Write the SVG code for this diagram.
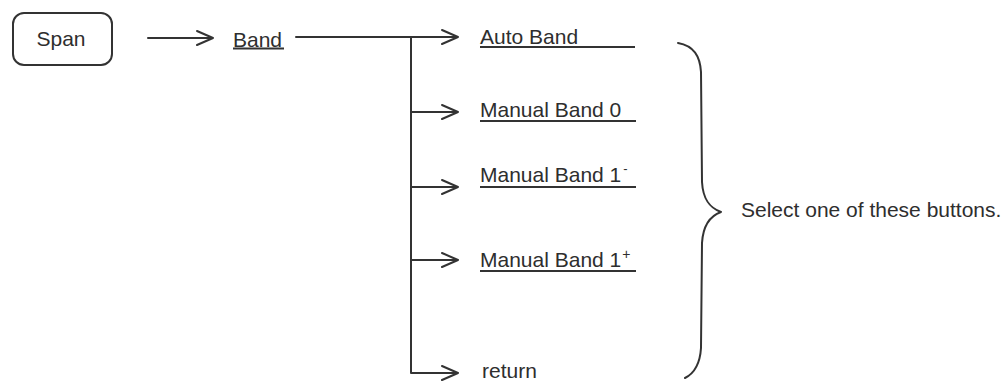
<svg xmlns="http://www.w3.org/2000/svg" width="1006" height="381" viewBox="0 0 1006 381">
<style>
text{font-family:"Liberation Sans",Arial,sans-serif;font-size:21px;fill:#2e2e2e}
.ln{stroke:#333;stroke-width:2;fill:none;stroke-linecap:round;stroke-linejoin:round}
.ul{stroke:#333;stroke-width:2.2}
</style>
<rect width="1006" height="381" fill="#fff"/>
<g id="span">
<rect x="13" y="13" width="99" height="52" rx="11" class="ln"/>
<text x="61" y="46" text-anchor="middle">Span</text>
</g>
<g id="band">
<text x="233" y="47">Band</text>
<line x1="233" y1="48.5" x2="284" y2="48.5" class="ul"/>
</g>
<g id="auto-band">
<text x="480" y="44">Auto Band</text>
<line x1="480" y1="47" x2="635" y2="47" class="ul"/>
</g>
<g id="manual-band-0">
<text x="480" y="117">Manual Band 0</text>
<line x1="480" y1="121" x2="636" y2="121" class="ul"/>
</g>
<g id="manual-band-1-minus">
<text x="480" y="182">Manual Band 1<tspan dx="2" dy="-9" font-size="13">-</tspan></text>
<line x1="480" y1="187" x2="636" y2="187" class="ul"/>
</g>
<g id="manual-band-1-plus">
<text x="480" y="267">Manual Band 1<tspan dx="1" dy="-8" font-size="14">+</tspan></text>
<line x1="480" y1="271" x2="636" y2="271" class="ul"/>
</g>
<g id="return">
<text x="482" y="378">return</text>
</g>
<g id="note">
<text x="741" y="217">Select one of these buttons.</text>
</g>
<g id="connectors">
<path class="ln" d="M148 38H213M197 31L213 38L197 45"/>
<path class="ln" d="M296 37H458M442 30L458 37L442 44"/>
<path class="ln" d="M411 37V373H458M442 366L458 373L442 380"/>
<path class="ln" d="M411 112H458M442 105L458 112L442 119"/>
<path class="ln" d="M411 187H458M442 180L458 187L442 194"/>
<path class="ln" d="M411 260H458M442 253L458 260L442 267"/>
<path class="ln" d="M678 43C694 46 700 56 701 72L702 182C703 200 710 208 721 212C710 216 703 226 702 243L701 348C700 364 695 373 685 378"/>
</g>
</svg>
